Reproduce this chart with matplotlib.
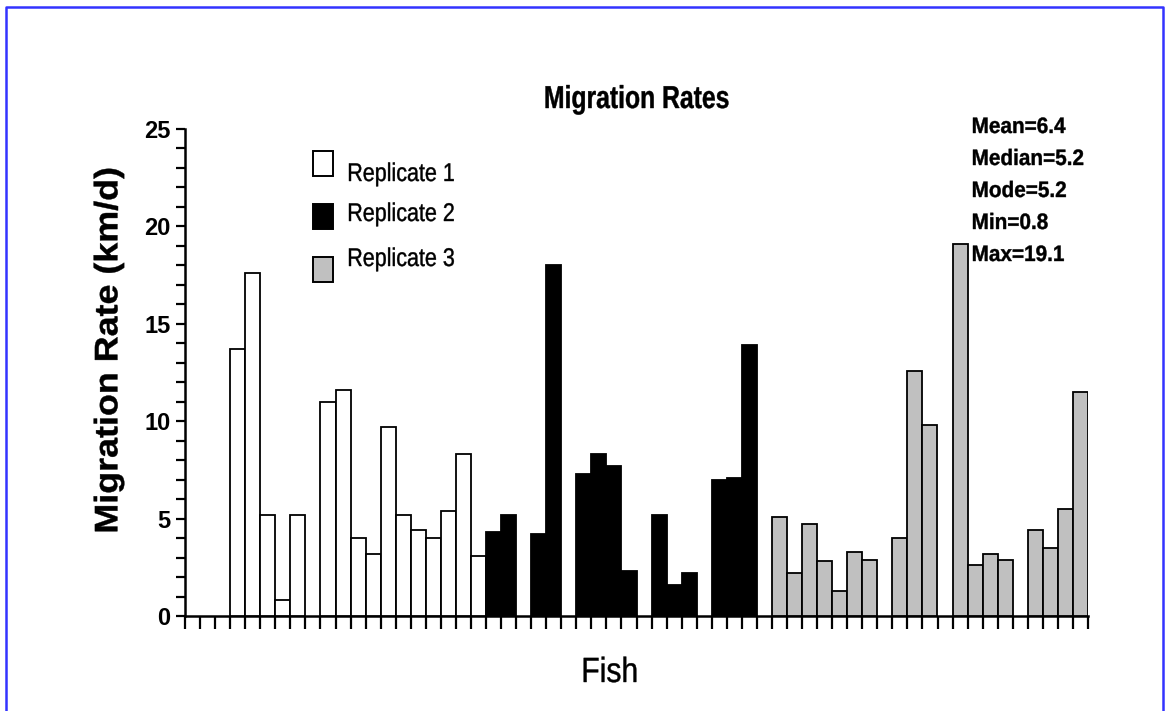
import numpy as np
import matplotlib
matplotlib.use("Agg")
from matplotlib import pyplot as plt
from matplotlib.patches import Rectangle, PathPatch
from matplotlib.lines import Line2D
from matplotlib.textpath import TextPath
from matplotlib.font_manager import FontProperties
from matplotlib.transforms import Affine2D

nan = np.nan

# migration rate (km/d) per fish slot, NaN = no fish in that slot
rep1 = [nan, nan, nan, 13.7, 17.6, 5.2, 0.8, 5.2, nan, 11.0, 11.6, 4.0, 3.2,
        9.7, 5.2, 4.4, 4.0, 5.4, 8.3, 3.1]
rep2 = [4.3, 5.2, nan, 4.2, 18.0, nan, 7.3, 8.3, 7.7, 2.3, nan, 5.2, 1.6, 2.2,
        nan, 7.0, 7.1, 13.9, nan]
rep3 = [5.1, 2.2, 4.7, 2.8, 1.3, 3.3, 2.9, nan, 4.0, 12.6, 9.8, nan, 19.1,
        2.6, 3.2, 2.9, nan, 4.4, 3.5, 5.5, 11.5]

series = ["Replicate 1", "Replicate 2", "Replicate 3"]
fills = ["white", "black", "#c0c0c0"]
stats = ["Mean=6.4", "Median=5.2", "Mode=5.2", "Min=0.8", "Max=19.1"]

plt.rcParams["font.family"] = ["Liberation Sans", "DejaVu Sans"]

W, H = 1167, 711
fig = plt.figure(figsize=(W / 100, H / 100), dpi=100)
fig.patch.set_facecolor("white")


def px(x, y):
    # pixel position (from top-left) -> figure fraction
    return x / W, 1 - y / H


def narrow_text(x, y, s, size, sx=1.0, weight="normal", ha="left",
                va="baseline", rot=0):
    # text as a path so it can be squeezed like the original's narrow font
    fp = FontProperties(family="Liberation Sans", weight=weight)
    tp = TextPath((0, 0), s, size=size, prop=fp)
    ext = tp.get_extents()
    dx = {"left": -ext.x0, "center": -(ext.x0 + ext.x1) / 2, "right": -ext.x1}[ha]
    dy = 0 if va == "baseline" else -(ext.y0 + ext.y1) / 2
    tr = Affine2D().translate(dx, dy).scale(sx, 1).rotate_deg(rot).translate(x, H - y)
    fig.add_artist(PathPatch(tp, transform=tr, facecolor="black",
                             edgecolor="black", linewidth=0.3))


l, t = px(185, 129)
r, b = px(1088, 616)
ax = fig.add_axes([l, b, r - l, t - b])

start = 0
for vals, col in zip([rep1, rep2, rep3], fills):
    v = np.array(vals, dtype=float)
    xs = np.arange(start, start + len(v))
    ok = ~np.isnan(v)
    ax.bar(xs[ok], v[ok], width=1, align="edge", color=col,
           edgecolor="black", linewidth=1.3, zorder=3)
    start += len(v)

nslots = start
ax.set_xlim(0, nslots)
ax.set_ylim(0, 25)
ax.set_xticks(np.arange(0, nslots + 1))
ax.set_xticklabels([])
ax.set_yticks(np.arange(0, 26, 5))
ax.set_yticks(np.arange(0, 26, 1), minor=True)
ax.tick_params(axis="x", direction="out", length=9, width=1.6)
ax.tick_params(axis="y", which="both", direction="out", length=6.5, width=1.6, pad=4)
for lab in ax.get_yticklabels():
    lab.set_fontsize(17)
    lab.set_fontweight("bold")
for s in ["top", "right"]:
    ax.spines[s].set_visible(False)
for s in ["left", "bottom"]:
    ax.spines[s].set_linewidth(1.8)

narrow_text(109, 350, "Migration Rate (km/d)", 32.6, sx=1.1, weight="bold",
            ha="center", va="center", rot=90)
narrow_text(637, 108, "Migration Rates", 31.7, sx=0.78, weight="bold", ha="center")
narrow_text(610, 682, "Fish", 35, sx=0.86, ha="center")

# legend drawn by hand
sq_top = [151, 204, 257]
txt_base = [181, 221, 266]
for name, col, sy, ty in zip(series, fills, sq_top, txt_base):
    x0, y0 = px(313, sy + 25)
    fig.add_artist(Rectangle((x0, y0), 20 / W, 25 / H, transform=fig.transFigure,
                             facecolor=col, edgecolor="black", linewidth=1.4))
    narrow_text(349, ty, name, 25.6, sx=0.84)

for i, s in enumerate(stats):
    narrow_text(973, 133 + 32 * i, s, 22.3, sx=0.93, weight="bold")

# blue frame
blue = "#3333ff"
fx0, fy0 = px(5.5, 6.5)
fx1, fy1 = px(1163, 711)
fig.add_artist(Line2D([fx0, fx0, fx1, fx1], [fy1, fy0, fy0, fy1],
                      transform=fig.transFigure, color=blue, linewidth=1.8))

fig.savefig("out.png", dpi=100, facecolor="white")
